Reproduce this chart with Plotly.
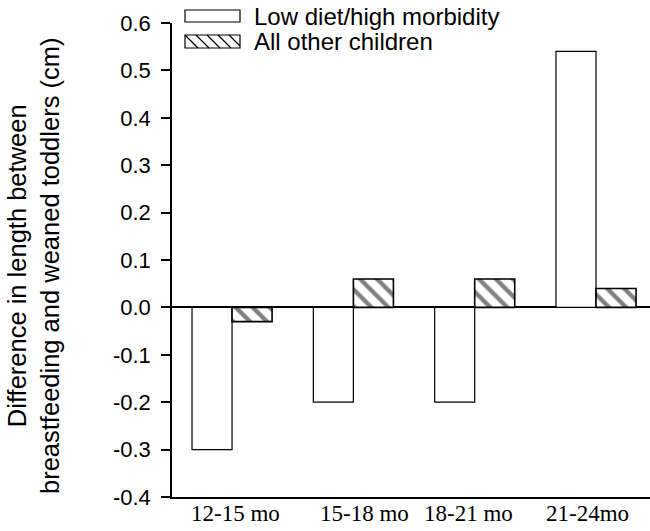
import plotly.graph_objects as go

# Data: difference in length (cm) between breastfed and weaned toddlers
age_groups = ["12-15 mo", "15-18 mo", "18-21 mo", "21-24mo"]
low_diet_high_morbidity = [-0.30, -0.20, -0.20, 0.54]
all_other_children = [-0.03, 0.06, 0.06, 0.04]

series_names = ["Low diet/high morbidity", "All other children"]
y_ticks = [-0.4, -0.3, -0.2, -0.1, 0.0, 0.1, 0.2, 0.3, 0.4, 0.5, 0.6]
y_tick_text = ["-0.4", "-0.3", "-0.2", "-0.1", "0.0", "0.1", "0.2", "0.3", "0.4", "0.5", "0.6"]

# horizontal nudge of each category label relative to its group centre
label_nudge = [0.03, 0.09, -0.05, -0.07]

W, H = 650, 531
ML, MR, MT, MB = 172, 0, 23, 34
PW, PH = W - ML - MR, H - MT - MB


def px_x(x):
    return (x - ML) / PW


def px_y(y):
    return (H - MB - y) / PH


sans = "Liberation Sans, Arial, sans-serif"
serif = "Liberation Serif, Times New Roman, serif"

fig = go.Figure()
fig.add_trace(go.Bar(
    x=list(range(len(age_groups))), y=low_diet_high_morbidity, name=series_names[0],
    marker=dict(color="white", line=dict(color="black", width=1.2)),
    showlegend=False,
))
fig.add_trace(go.Bar(
    x=list(range(len(age_groups))), y=all_other_children, name=series_names[1],
    marker=dict(color="white", line=dict(color="black", width=1.6),
                pattern=dict(shape="\\", fgcolor="black", bgcolor="white",
                             size=12, solidity=0.36)),
    showlegend=False,
))

# category labels under the axis
annotations = []
for i, lab in enumerate(age_groups):
    annotations.append(dict(
        x=i + label_nudge[i], xref="x", y=px_y(513), yref="paper",
        text=lab, showarrow=False, xanchor="center", yanchor="middle",
        font=dict(family=serif, size=23, color="black"),
    ))

# y-axis title (two lines)
annotations.append(dict(
    x=px_x(33), xref="paper", y=px_y(266), yref="paper",
    text="Difference in length between<br>breastfeeding and weaned toddlers (cm)",
    textangle=-90, showarrow=False, xanchor="center", yanchor="middle",
    font=dict(family=sans, size=25.5, color="black"),
))

# legend: wide boxes with labels
shapes = []
box_x0, box_x1 = px_x(185), px_x(240)
rows = [(10, 22), (35, 48)]
for k, (ytop, ybot) in enumerate(rows):
    shapes.append(dict(type="rect", xref="paper", yref="paper",
                       x0=box_x0, x1=box_x1, y0=px_y(ybot), y1=px_y(ytop),
                       line=dict(color="black", width=1.2), fillcolor="white"))
    annotations.append(dict(
        x=px_x(252), xref="paper", y=px_y((ytop + ybot) / 2), yref="paper",
        text=series_names[k], showarrow=False, xanchor="left", yanchor="middle",
        font=dict(family=sans, size=24, color="black"),
    ))
# hatch strokes in the second legend box
ytop, ybot = rows[1]
for sx in range(185, 240, 11):
    x0 = sx
    x1 = min(sx + (ybot - ytop), 240)
    y1 = ytop + (x1 - x0)
    shapes.append(dict(type="line", xref="paper", yref="paper",
                       x0=px_x(x0), x1=px_x(x1), y0=px_y(ytop), y1=px_y(y1),
                       line=dict(color="black", width=1.3)))

fig.update_layout(
    width=W, height=H,
    margin=dict(l=ML, r=MR, t=MT, b=MB, pad=0),
    paper_bgcolor="white", plot_bgcolor="white",
    barmode="group", bargap=0.34, bargroupgap=0,
    showlegend=False,
    xaxis=dict(range=[-0.495, 3.445], showticklabels=False, ticks="",
               showgrid=False, zeroline=False,
               showline=True, linecolor="black", linewidth=1.5),
    yaxis=dict(range=[-0.4, 0.6], tickvals=y_ticks, ticktext=y_tick_text,
               ticks="outside", ticklen=9, tickwidth=1.5, tickcolor="black",
               ticklabelstandoff=6,
               showgrid=False, showline=True, linecolor="black", linewidth=1.5,
               zeroline=True, zerolinecolor="black", zerolinewidth=1.5,
               tickfont=dict(family=sans, size=22, color="black")),
    annotations=annotations,
    shapes=shapes,
)

fig.write_html("out.html")
